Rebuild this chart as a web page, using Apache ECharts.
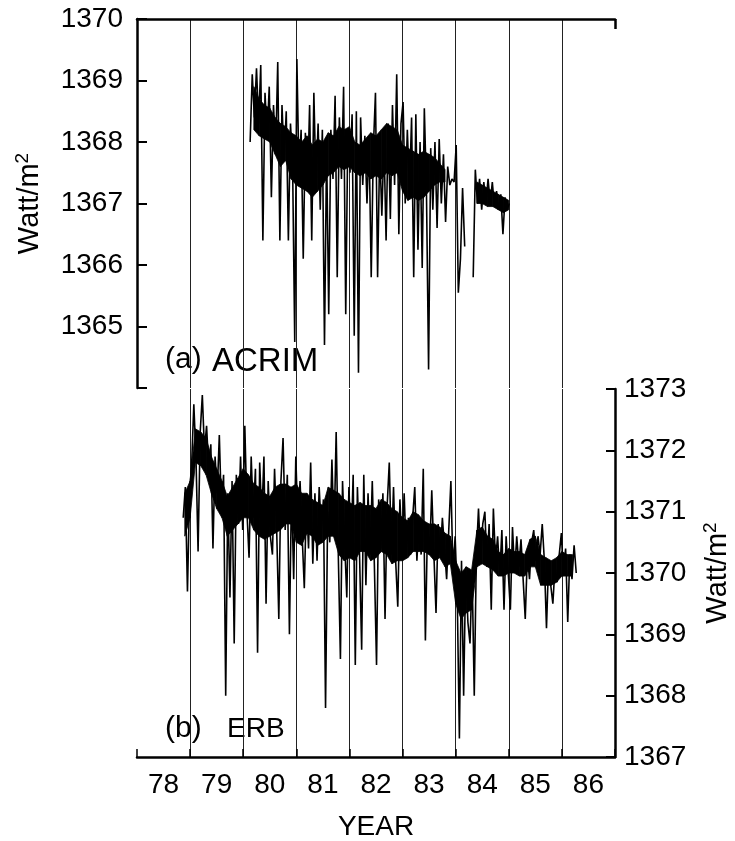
<!DOCTYPE html>
<html>
<head>
<meta charset="utf-8">
<title>ACRIM / ERB</title>
<script src="https://cdn.jsdelivr.net/npm/echarts@6/dist/echarts.min.js"></script>
<style>
    html, body { margin: 0; padding: 0; background: #fff; }
    #chart { width: 735px; height: 841px; }
</style>
</head>
<body>
<div id="chart"></div>
<script>
// tick labels
var yearLabels = ['78', '79', '80', '81', '82', '83', '84', '85', '86'];
var acrimTicks = [1365, 1366, 1367, 1368, 1369, 1370];
var erbTicks = [1367, 1368, 1369, 1370, 1371, 1372, 1373];

// spiky traces, every 0.04 yr
var sampleStep = 0.04;

var acrimStart = 1980.13;
var acrimValues = [
    1368.0, 1369.1, 1368.4, 1369.2, 1368.3, 1369.25, 1366.4, 1368.8, 1368.1, 1368.9,
    1367.1, 1368.6, 1367.8, 1369.3, 1366.4, 1368.6, 1367.7, 1368.5, 1366.4, 1368.3,
    1367.6, 1364.75, 1369.35, 1367.5, 1368.2, 1366.1, 1368.15, 1367.2, 1368.6, 1366.4,
    1368.8, 1367.3, 1368.3, 1366.9, 1368.2, 1364.7, 1367.9, 1365.2, 1368.2, 1367.4,
    1368.75, 1365.8, 1368.4, 1367.4, 1368.9, 1365.2, 1368.2, 1367.5, 1368.45, 1364.85,
    1368.5, 1364.25, 1368.4, 1367.3, 1368.1, 1367.0, 1368.0, 1365.8, 1367.9, 1368.8,
    1365.8, 1367.9, 1366.8, 1368.0, 1366.4, 1368.3, 1366.75, 1368.6, 1367.3, 1369.1,
    1366.5, 1368.3, 1368.65, 1367.0, 1368.2, 1367.2, 1368.4, 1365.8, 1368.45, 1366.25,
    1368.0, 1365.95, 1368.55, 1367.2, 1364.3, 1367.9, 1366.9, 1368.0, 1366.6, 1368.05,
    1367.0, 1367.8, 1366.7, 1367.6, 1367.3, 1367.4, 1367.35, 1367.95, 1365.55, 1366.1,
    1367.25, 1366.3, null, null, null, 1365.8, 1367.55, 1367.0, 1367.4, 1366.9,
    1367.35, 1367.0, 1367.4, 1367.0, 1367.35, 1366.95, 1367.2, 1366.9, 1367.15, 1366.5,
    1367.1, 1366.9, 1367.0
];

var erbStart = 1978.87;
var erbValues = [
    1370.9, 1371.4, 1369.7, 1371.3, 1371.8, 1372.75, 1371.9, 1370.35, 1372.3, 1372.9,
    1372.0, 1372.4, 1371.7, 1372.1, 1370.4, 1371.9, 1371.3, 1372.25, 1371.0, 1371.6,
    1368.0, 1371.3, 1369.6, 1371.5, 1368.85, 1371.6, 1370.8, 1371.9, 1370.7, 1372.4,
    1371.0, 1370.25, 1371.9, 1370.9, 1371.7, 1368.7, 1371.8, 1370.9, 1371.9, 1369.5,
    1371.5, 1370.6, 1370.3, 1371.7, 1370.7, 1369.25, 1371.5, 1372.2, 1370.7, 1371.6,
    1369.0, 1371.4, 1369.9, 1371.9, 1370.8, 1371.5, 1370.6, 1369.75, 1371.2, 1370.4,
    1371.8, 1370.15, 1371.3, 1370.2, 1371.4, 1370.7, 1371.2, 1367.8, 1371.0, 1370.5,
    1371.85, 1370.6, 1372.3, 1370.3, 1368.6, 1371.5, 1370.5, 1369.6, 1371.4, 1370.4,
    1371.6, 1368.5, 1371.4, 1370.3, 1368.75, 1371.6, 1369.8, 1371.3, 1370.3, 1371.5,
    1370.1, 1368.5, 1371.2, 1370.4, 1371.3, 1369.25, 1371.1, 1371.8, 1370.3, 1371.4,
    1370.2, 1369.45, 1371.2, 1370.4, 1371.3, 1370.3, 1370.9, 1370.3, 1370.9, 1371.4,
    1370.2, 1370.9, 1370.3, 1371.7, 1368.9, 1370.8, 1370.3, 1371.35, 1370.3, 1369.35,
    1370.8, 1370.3, 1370.9, 1370.4, 1369.9, 1370.7, 1371.5, 1370.0, 1370.6, 1369.6,
    1367.3, 1370.2, 1368.0, 1370.1, 1369.2, 1368.85, 1370.0, 1368.0, 1370.3, 1371.05,
    1370.2, 1370.8, 1371.0, 1370.1, 1370.8, 1369.4, 1371.05, 1370.2, 1370.6, 1369.95,
    1370.7, 1369.4, 1370.6, 1370.0, 1369.4, 1370.75, 1370.0, 1370.6, 1370.1, 1370.55,
    1369.9, 1369.25, 1370.3, 1369.9, 1370.5, 1370.7, 1370.2, 1370.6, 1370.3, 1370.8,
    1370.2, 1369.1, 1370.2, 1369.8, 1369.5, 1370.1, 1369.85, 1370.3, 1370.65, 1369.95,
    1370.4, 1369.2, 1370.3, 1369.9, 1370.45, 1370.0
];

// solid black core of each trace (lower / upper edge), every 0.1 yr
var coreStep = 0.1;

var acrimCoreStart = 1980.2;
var acrimCoreLow = [
    1368.2, 1368.1, 1368.05, 1368.0, 1367.8, 1367.6, 1367.7, 1367.4, 1367.3, 1367.25,
    1367.2, 1367.1, 1367.2, 1367.3, 1367.45, 1367.5, 1367.6, 1367.55, 1367.6, 1367.5,
    1367.45, 1367.5, 1367.4, 1367.45, 1367.4, 1367.5, 1367.45, 1367.5, 1367.2, 1367.05,
    1367.1, 1367.05, 1367.1, 1367.2, 1367.3, 1367.35, 1367.35, null, null, null,
    null, null, 1367.0, 1367.0, 1366.95, 1366.95, 1366.9, 1366.85, 1366.9
];
var acrimCoreHigh = [
    1368.9, 1368.7, 1368.6, 1368.55, 1368.4, 1368.3, 1368.25, 1368.15, 1368.1, 1368.0,
    1368.1, 1367.95, 1368.05, 1368.0, 1368.15, 1368.1, 1368.25, 1368.2, 1368.25, 1368.0,
    1367.95, 1368.05, 1368.15, 1368.1, 1368.2, 1368.3, 1368.25, 1368.2, 1367.95, 1367.9,
    1367.85, 1367.8, 1367.85, 1367.8, 1367.75, 1367.65, 1367.55, null, null, null,
    null, null, 1367.35, 1367.3, 1367.25, 1367.2, 1367.15, 1367.1, 1367.05
];

var erbCoreStart = 1978.9;
var erbCoreLow = [
    1370.6, 1370.9, 1371.8, 1371.75, 1371.6, 1371.3, 1371.05, 1370.9, 1370.6, 1370.7,
    1370.8, 1370.9, 1370.9, 1370.7, 1370.6, 1370.55, 1370.6, 1370.65, 1370.7, 1370.8,
    1370.8, 1370.5, 1370.45, 1370.65, 1370.6, 1370.45, 1370.5, 1370.6, 1370.6, 1370.3,
    1370.2, 1370.25, 1370.2, 1370.35, 1370.35, 1370.2, 1370.25, 1370.35, 1370.3, 1370.15,
    1370.2, 1370.2, 1370.25, 1370.35, 1370.35, 1370.35, 1370.3, 1370.2, 1370.25, 1370.1,
    1370.15, 1369.5, 1369.25, 1369.35, 1369.4, 1370.1, 1370.15, 1370.1, 1370.05, 1369.95,
    1369.95, 1370.0, 1370.0, 1369.95, 1369.95, 1370.1, 1370.1, 1369.8, 1369.8, 1369.8,
    1369.85, 1369.95, 1369.95, 1369.95
];
var erbCoreHigh = [
    1371.3, 1371.5, 1372.35, 1372.3, 1372.2, 1371.9, 1371.7, 1371.5, 1371.25, 1371.4,
    1371.55, 1371.7, 1371.6, 1371.45, 1371.4, 1371.3, 1371.25, 1371.4, 1371.45, 1371.45,
    1371.4, 1371.45, 1371.3, 1371.3, 1371.2, 1371.15, 1371.1, 1371.4, 1371.35, 1371.3,
    1371.2, 1371.15, 1371.1, 1371.15, 1371.1, 1371.1, 1371.05, 1371.2, 1371.15, 1371.05,
    1371.0, 1370.9, 1370.85, 1371.0, 1370.95, 1370.85, 1370.8, 1370.8, 1370.75, 1370.65,
    1370.6, 1370.2, 1370.0, 1370.1, 1370.05, 1370.7, 1370.75, 1370.6, 1370.55, 1370.35,
    1370.3, 1370.4, 1370.35, 1370.35, 1370.3, 1370.55, 1370.6, 1370.3, 1370.25, 1370.2,
    1370.25, 1370.35, 1370.3, 1370.3
];

var font = 'Liberation Sans, Arial, sans-serif';

function toPoints(start, step, values) {
    return values.map(function (v, i) {
        return [start + i * step, v];
    });
}

// one item per core segment: [x0, low0, high0, x1, low1, high1]
function coreSegments(start, low, high) {
    var items = [];
    for (var i = 0; i < low.length - 1; i++) {
        if (low[i] === null || low[i + 1] === null) continue;
        items.push([start + i * coreStep, low[i], high[i],
            start + (i + 1) * coreStep, low[i + 1], high[i + 1]]);
    }
    return items;
}

function renderCore(params, api) {
    var a = api.coord([api.value(0), api.value(2)]);
    var b = api.coord([api.value(3), api.value(5)]);
    var c = api.coord([api.value(3), api.value(4)]);
    var d = api.coord([api.value(0), api.value(1)]);
    return {
        type: 'polygon',
        shape: { points: [a, b, c, d] },
        style: { fill: '#000', stroke: '#000', lineWidth: 0.8 }
    };
}

function coreSeries(name, xIdx, yIdx, start, low, high) {
    return {
        name: name + ' core',
        type: 'custom',
        xAxisIndex: xIdx,
        yAxisIndex: yIdx,
        renderItem: renderCore,
        encode: { x: [0, 3], y: [1, 2, 4, 5] },
        data: coreSegments(start, low, high),
        silent: true
    };
}

function gridLines() {
    return { show: true, showMinLine: false, showMaxLine: false, lineStyle: { color: '#222', width: 1 } };
}

var axisLineStyle = { color: '#000', width: 2.5 };
var nameStyle = {
    color: '#000',
    fontSize: 29,
    fontFamily: font,
    lineHeight: 34,
    rich: {
        sup: { fontSize: 19, fontFamily: font, color: '#000', verticalAlign: 'top', lineHeight: 16 }
    }
};

var myChart = echarts.init(document.getElementById('chart'));

var option = {
    backgroundColor: '#fff',
    animation: false,
    grid: [
        { left: 137, top: 19, width: 478, height: 369, outerBoundsMode: 'none' },
        { left: 137, top: 389, width: 478, height: 368, outerBoundsMode: 'none' }
    ],
    xAxis: [{
        gridIndex: 0,
        type: 'value',
        min: 1978,
        max: 1987,
        interval: 1,
        position: 'top',
        axisLine: { lineStyle: axisLineStyle },
        axisTick: { show: false },
        axisLabel: { show: false },
        splitLine: gridLines()
    }, {
        // only the stub at the right end of the top frame
        gridIndex: 0,
        type: 'value',
        min: 1978,
        max: 1987,
        position: 'top',
        axisLine: { show: false },
        axisTick: { show: true, inside: true, length: 10, customValues: [1987], lineStyle: axisLineStyle },
        axisLabel: { show: false },
        splitLine: { show: false }
    }, {
        gridIndex: 1,
        type: 'value',
        min: 1978,
        max: 1987,
        interval: 1,
        position: 'bottom',
        axisLine: { lineStyle: axisLineStyle },
        axisTick: { show: true, inside: true, length: 8, lineStyle: { color: '#000', width: 1.5 } },
        axisLabel: { show: false },
        splitLine: gridLines()
    }, {
        gridIndex: 1,
        type: 'category',
        data: yearLabels,
        boundaryGap: true,
        position: 'bottom',
        axisLine: { show: false },
        axisTick: { show: false },
        axisLabel: { color: '#000', fontSize: 28, fontFamily: font, margin: 14 },
        name: 'YEAR',
        nameLocation: 'middle',
        nameGap: 56,
        nameTextStyle: { color: '#000', fontSize: 28, fontFamily: font }
    }],
    yAxis: [{
        gridIndex: 0,
        type: 'value',
        min: 1364,
        max: 1370,
        interval: 1,
        position: 'left',
        axisLine: { show: true, lineStyle: axisLineStyle },
        axisTick: { show: true, inside: true, length: 10, lineStyle: { color: '#000', width: 2 } },
        splitLine: { show: false },
        axisLabel: {
            color: '#000', fontSize: 28, fontFamily: font, margin: 14,
            formatter: function (v) { return acrimTicks.indexOf(v) >= 0 ? String(v) : ''; }
        },
        name: 'Watt/m{sup|2}',
        nameLocation: 'middle',
        nameRotate: 90,
        nameGap: 90,
        nameTextStyle: nameStyle
    }, {
        gridIndex: 1,
        type: 'value',
        min: 1367,
        max: 1373,
        interval: 1,
        position: 'right',
        axisLine: { show: true, lineStyle: axisLineStyle },
        axisTick: { show: true, inside: true, length: 9, lineStyle: { color: '#000', width: 2 } },
        splitLine: { show: false },
        axisLabel: {
            color: '#000', fontSize: 28, fontFamily: font, margin: 9,
            formatter: function (v) { return erbTicks.indexOf(v) >= 0 ? String(v) : ''; }
        },
        name: 'Watt/m{sup|2}',
        nameLocation: 'middle',
        nameRotate: 90,
        nameGap: 86,
        nameTextStyle: nameStyle
    }],
    graphic: [
        { type: 'text', x: 165, y: 360, style: { text: '(a)', fontSize: 30, fontFamily: font, fill: '#000', verticalAlign: 'middle' } },
        { type: 'text', x: 212, y: 362, style: { text: 'ACRIM', fontSize: 33, fontFamily: font, fill: '#000', verticalAlign: 'middle' } },
        { type: 'text', x: 165, y: 729, style: { text: '(b)', fontSize: 30, fontFamily: font, fill: '#000', verticalAlign: 'middle' } },
        { type: 'text', x: 227, y: 729, style: { text: 'ERB', fontSize: 28, fontFamily: font, fill: '#000', verticalAlign: 'middle' } }
    ],
    series: [
        coreSeries('ACRIM', 0, 0, acrimCoreStart, acrimCoreLow, acrimCoreHigh),
        coreSeries('ERB', 2, 1, erbCoreStart, erbCoreLow, erbCoreHigh),
        {
            name: 'ACRIM',
            type: 'line',
            xAxisIndex: 0,
            yAxisIndex: 0,
            data: toPoints(acrimStart, sampleStep, acrimValues),
            symbol: 'none',
            connectNulls: false,
            lineStyle: { color: '#000', width: 1.6 }
        }, {
            name: 'ERB',
            type: 'line',
            xAxisIndex: 2,
            yAxisIndex: 1,
            data: toPoints(erbStart, sampleStep, erbValues),
            symbol: 'none',
            lineStyle: { color: '#000', width: 1.6 }
        }
    ]
};

myChart.setOption(option);
</script>
</body>
</html>
